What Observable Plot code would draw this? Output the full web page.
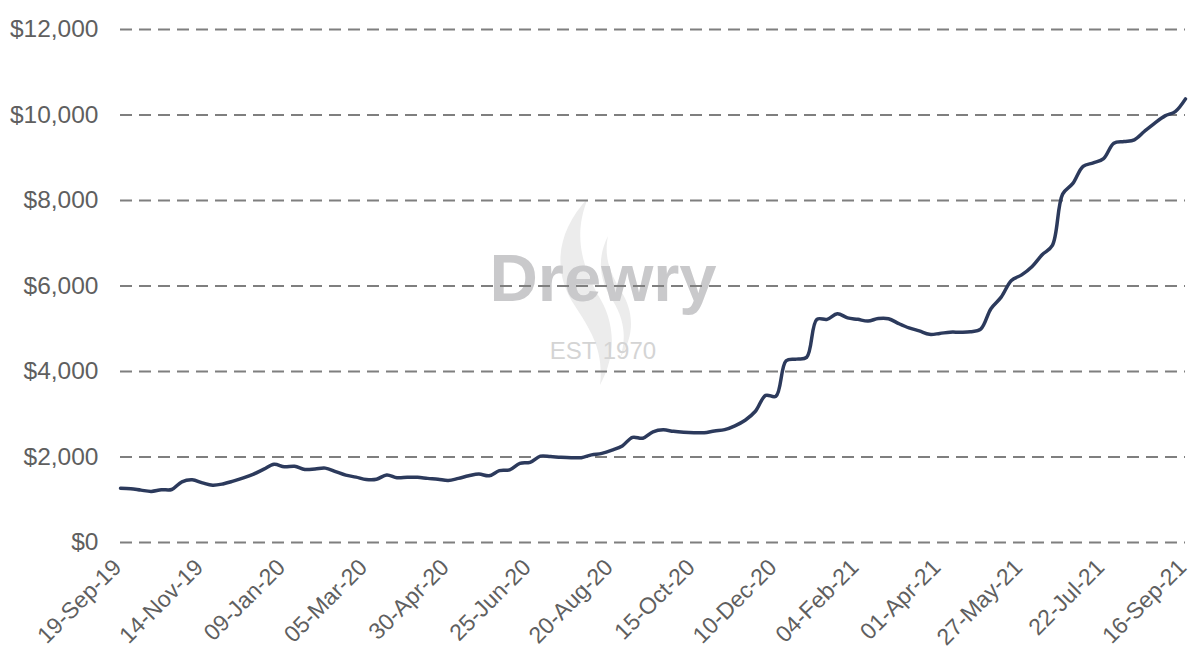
<!DOCTYPE html>
<html>
<head>
<meta charset="utf-8">
<script src="https://cdn.jsdelivr.net/npm/d3@7"></script>
<script src="https://cdn.jsdelivr.net/npm/@observablehq/plot@0.6"></script>
<style>
  html, body { margin: 0; padding: 0; background: #ffffff; }
  #chart { width: 1190px; height: 653px; overflow: hidden; }
</style>
</head>
<body>
<div id="chart"></div>
<script>
// First week of the weekly series and the weekly values (USD per 40ft container)
const startDate = "2019-09-19";
const values = [
  1270,1260,1225,1195,1235,1240,1420,1465,1395,1340,
  1370,1435,1510,1600,1715,1830,1770,1785,1710,1720,
  1740,1660,1575,1530,1475,1480,1580,1515,1525,1525,
  1500,1480,1450,1500,1560,1600,1560,1680,1700,1850,
  1875,2020,2010,1995,1985,1985,2050,2085,2160,2260,
  2460,2440,2590,2635,2600,2580,2570,2570,2610,2640,
  2730,2860,3070,3440,3420,4250,4290,4330,5220,5220,
  5350,5255,5220,5180,5240,5235,5120,5020,4950,4870,
  4890,4920,4920,4930,4990,5470,5740,6130,6260,6450,
  6730,6950,8150,8400,8800,8880,8980,9340,9380,9420,
  9620,9810,9980,10080,10377
];
const xTickLabels = [
  "19-Sep-19","14-Nov-19","09-Jan-20","05-Mar-20","30-Apr-20","25-Jun-20","20-Aug-20",
  "15-Oct-20","10-Dec-20","04-Feb-21","01-Apr-21","27-May-21","22-Jul-21","16-Sep-21"
];
const yTicks = [0, 2000, 4000, 6000, 8000, 10000, 12000];
const watermark = ["Drewry"];
const watermarkSub = ["EST 1970"];

const parse = d3.utcParse("%d-%b-%y");
const fmtDate = d3.utcFormat("%d-%b-%y");
const start = d3.utcParse("%Y-%m-%d")(startDate);
const data = values.map((v, i) => ({ date: d3.utcDay.offset(start, 7 * i), value: v }));
const xTicks = xTickLabels.map(parse);

const chart = Plot.plot({
  width: 1190,
  height: 653,
  marginLeft: 120,
  marginRight: 5,
  marginTop: 29,
  marginBottom: 111,
  style: {
    fontFamily: "'Liberation Sans', Arial, sans-serif",
    fontSize: "23px",
    color: "#5f5f5f",
    background: "#ffffff"
  },
  x: {
    type: "utc",
    domain: [xTicks[0], xTicks[xTicks.length - 1]],
    ticks: xTicks,
    tickFormat: fmtDate,
    tickRotate: -45,
    tickSize: 0,
    tickPadding: 21,
    label: null
  },
  y: {
    domain: [0, 12000],
    ticks: yTicks,
    tickFormat: d => "$" + d3.format(",")(d),
    tickSize: 0,
    tickPadding: 22,
    label: null
  },
  marks: [
    Plot.text(watermark, {
      text: d => d, frameAnchor: "middle", dx: -50, dy: -6,
      fontSize: 67, fontWeight: "bold", fill: "#c9c9cb"
    }),
    Plot.text(watermarkSub, {
      text: d => d, frameAnchor: "middle", dx: -50, dy: 65,
      fontSize: 24, fill: "#d4d4d4"
    }),
    Plot.ruleY(yTicks, {
      stroke: "#7f7f7f", strokeWidth: 2.2, strokeDasharray: "12,7", strokeOpacity: 1
    }),
    Plot.line(data, {
      x: "date", y: "value", stroke: "#2c3a5c", strokeWidth: 3.5, curve: "catmull-rom"
    })
  ]
});

const svg = d3.select(chart);
// y tick labels slightly larger than x tick labels
svg.selectAll('g[aria-label="y-axis tick label"] text, g[aria-label="y-axis"] text')
  .style("font-size", "24.5px");
// nudge rotated x labels a little to the left so the last one stays inside
svg.selectAll('g[aria-label="x-axis tick label"]').each(function () {
  const t = this.getAttribute("transform") || "";
  this.setAttribute("transform", (t + " translate(-3,0)").trim());
});

// soft flame emblem behind the watermark text
const g = svg.insert("g", ":first-child").attr("fill", "#ececec");
g.append("path").attr("d", "M588,198 C556,232 552,272 575,306 C592,332 604,352 600,385 C618,352 614,320 598,295 C580,262 574,232 588,198 Z");
g.append("path").attr("d", "M608,236 C596,260 600,282 613,301 C624,319 627,338 620,358 C636,334 633,310 621,291 C609,271 604,256 608,236 Z");
svg.insert("rect", ":first-child").attr("width", 1190).attr("height", 653).attr("fill", "#ffffff");

document.getElementById("chart").appendChild(chart);
</script>
</body>
</html>
